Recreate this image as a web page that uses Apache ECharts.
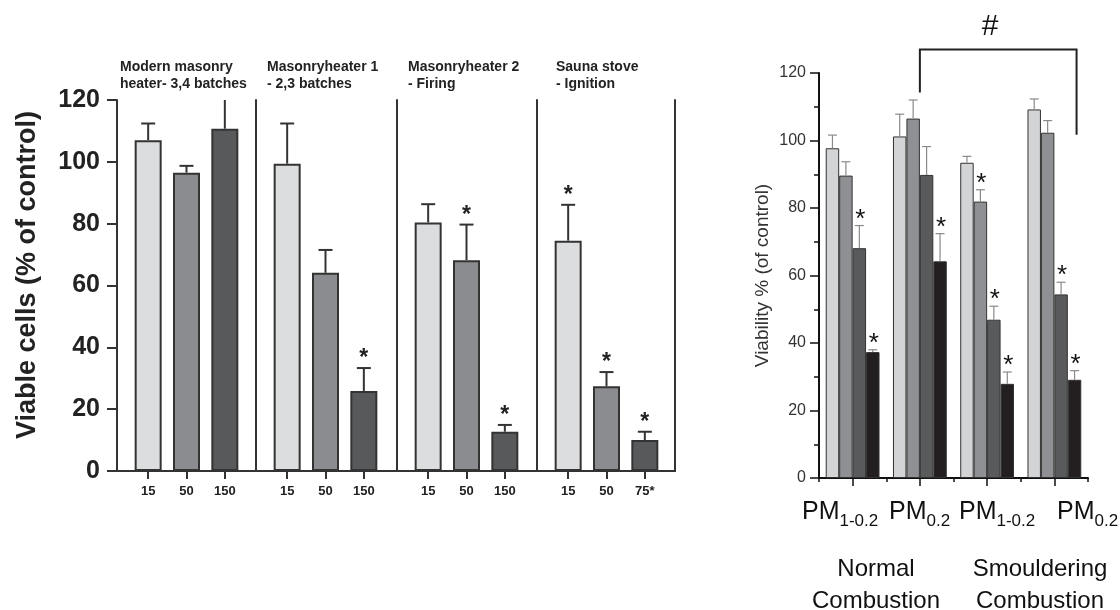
<!DOCTYPE html>
<html><head><meta charset="utf-8">
<script src="https://cdn.jsdelivr.net/npm/echarts@6/dist/echarts.min.js"></script>
<style>html,body{margin:0;padding:0;background:#fff}#c{width:1120px;height:610px}</style>
</head><body><div id="c"></div>
<script>
// ---------- LEFT CHART DATA ----------
const panelTitles = ['Modern masonry\nheater- 3,4 batches', 'Masonryheater 1\n- 2,3 batches', 'Masonryheater 2\n- Firing', 'Sauna stove\n- Ignition'];
const leftDoses = [['15','50','150'], ['15','50','150'], ['15','50','150'], ['15','50','75*']];
const leftMeans = [[107, 96.5, 110.7], [99.4, 64.1, 25.9], [80.4, 68.2, 12.7], [74.5, 27.4, 10]];
const leftErrTop = [[112.4, 98.7, 122], [112.4, 71.5, 33.3], [86.3, 79.7, 14.9], [86.1, 32, 12.7]];
const leftStars = [[0, 0, 0], [0, 0, 1], [0, 1, 1], [1, 1, 1]];

// ---------- RIGHT CHART DATA ----------
const rightCats = ['PM1-0.2 Normal', 'PM0.2 Normal', 'PM1-0.2 Smouldering', 'PM0.2 Smouldering'];
const rightLabelMain = ['PM', 'PM', 'PM', 'PM'];
const rightLabelSub = ['1-0.2', '0.2', '1-0.2', '0.2'];
const rightGroupLabels = ['Normal\nCombustion', 'Smouldering\nCombustion'];
const rightS1 = [97.7, 101.2, 93.4, 109.2];
const rightS2 = [89.6, 106.5, 81.9, 102.3];
const rightS3 = [68.1, 89.8, 46.9, 54.4];
const rightS4 = [37.3, 64.2, 27.9, 29.1];
const rightE1 = [101.6, 107.8, 95.3, 112.3];
const rightE2 = [93.7, 112.0, 85.4, 105.9];
const rightE3 = [74.8, 98.2, 50.9, 58.0];
const rightE4 = [38.0, 72.4, 31.4, 31.8];
const rightStar1 = [0, 0, 0, 0];
const rightStar2 = [0, 0, 1, 0];
const rightStar3 = [1, 0, 1, 1];
const rightStar4 = [1, 1, 1, 1];
const bracketTop = 127, bracketLeftFoot = 114.2, bracketRightFoot = 101.7;

// ---------- BUILD ----------
const FONT = "'Liberation Sans', Arial, Helvetica, sans-serif";
const leftColors = ['#dcdddf', '#8b8c8f', '#58595b'];
const rightColors = ['#d3d4d6', '#8f9093', '#595a5c', '#231f20'];
const panelStart = [117, 256, 397, 537];
const chart = echarts.init(document.getElementById('c'));

const grids = [], xAxes = [], yAxes = [], series = [];

function leftErr(params, api) {
  const base = api.coord([api.value(0), api.value(1)]);
  const t = api.coord([api.value(0), api.value(2)]);
  const gy = params.coordSys.y;
  const ty = Math.max(t[1], gy);
  const ch = [{type: 'line', shape: {x1: base[0], y1: base[1], x2: base[0], y2: ty}, style: {stroke: '#333', lineWidth: 2}}];
  if (t[1] > gy + 0.5) ch.push({type: 'line', shape: {x1: base[0] - 7, y1: ty, x2: base[0] + 7, y2: ty}, style: {stroke: '#333', lineWidth: 2}});
  if (api.value(3)) ch.push({type: 'text', style: {text: '*', x: base[0], y: ty - 9, align: 'center', verticalAlign: 'middle', fontSize: 23, fontWeight: 'bold', fontFamily: FONT, fill: '#222'}});
  return {type: 'group', children: ch};
}

panelStart.forEach((s, i) => {
  grids.push({left: s + 12, width: 115, top: 100, bottom: 139, outerBoundsMode: 'none'});
  const xi = xAxes.length, yi = yAxes.length;
  xAxes.push({type: 'category', gridIndex: i, data: leftDoses[i],
    axisLine: {show: true, lineStyle: {color: 'rgba(0,0,0,0)', width: 0}},
    axisTick: {show: true, interval: 0, alignWithLabel: true, length: 8, lineStyle: {color: '#333', width: 2}},
    axisLabel: {interval: 0, fontFamily: FONT, fontWeight: 'bold', fontSize: 13, color: '#222', margin: 14}});
  yAxes.push({type: 'value', gridIndex: i, min: 0, max: 120, interval: 20, offset: 12,
    splitLine: {show: false},
    axisLine: {show: true, lineStyle: {color: '#333', width: 2}},
    axisTick: {show: i === 0, length: 10, lineStyle: {color: '#333', width: 2}},
    axisLabel: {show: i === 0, fontFamily: FONT, fontWeight: 'bold', fontSize: 25, color: '#222', margin: 17}});
  series.push({type: 'bar', xAxisIndex: xi, yAxisIndex: yi, barWidth: 27, z: 2,
    data: leftMeans[i].map((v, j) => ({value: v, itemStyle: {color: leftColors[j]}})),
    itemStyle: {borderColor: '#333', borderWidth: 2}});
  series.push({type: 'custom', xAxisIndex: xi, yAxisIndex: yi, z: 3,
    data: leftMeans[i].map((v, j) => [j, v, leftErrTop[i][j], leftStars[i][j]]),
    renderItem: leftErr});
});
// closing separator on right of last panel
yAxes.push({type: 'value', gridIndex: 3, position: 'right', min: 0, max: 120, interval: 20, offset: 11,
  splitLine: {show: false}, axisTick: {show: false}, axisLabel: {show: false},
  axisLine: {show: true, lineStyle: {color: '#333', width: 2}}});

// baseline grid
const baseGrid = grids.length;
grids.push({left: 117, width: 558, top: 100, bottom: 139, outerBoundsMode: 'none'});
xAxes.push({type: 'value', gridIndex: baseGrid, min: 0, max: 1, axisLine: {show: true, lineStyle: {color: '#333', width: 2}},
  axisTick: {show: false}, axisLabel: {show: false}, splitLine: {show: false}});
yAxes.push({type: 'value', gridIndex: baseGrid, min: 0, max: 1, show: false});

// right grid
const rGrid = grids.length;
grids.push({left: 819, width: 269, top: 73, bottom: 132, outerBoundsMode: 'none'});
const rX = xAxes.length, rY = yAxes.length;
xAxes.push({type: 'category', gridIndex: rGrid, data: rightCats,
  axisLine: {show: true, lineStyle: {color: '#111', width: 2}},
  axisTick: {show: true, interval: 0, alignWithLabel: true, length: 8, lineStyle: {color: '#111', width: 1.5}},
  axisLabel: {show: false, interval: 0}});
yAxes.push({type: 'value', gridIndex: rGrid, min: 0, max: 120, interval: 20,
  name: 'Viability % (of control)', nameLocation: 'middle', nameGap: 47,
  nameTextStyle: {fontFamily: FONT, fontSize: 19, color: '#333'},
  splitLine: {show: false},
  axisLine: {show: true, lineStyle: {color: '#111', width: 2}},
  axisTick: {show: true, length: 9, lineStyle: {color: '#111', width: 1.5}},
  minorTick: {show: true, splitNumber: 2, length: 5, lineStyle: {color: '#111', width: 1.5}},
  axisLabel: {fontFamily: FONT, fontSize: 16, color: '#333', margin: 13}});
// boundary ticks grid
const bGrid = grids.length;
grids.push({left: 819, width: 269, top: 73, bottom: 132, outerBoundsMode: 'none'});
xAxes.push({type: 'category', gridIndex: bGrid, data: rightCats,
  axisLine: {show: true, lineStyle: {color: 'rgba(0,0,0,0)', width: 0}},
  axisTick: {show: true, interval: 0, length: 4, lineStyle: {color: '#111', width: 1.5}}, axisLabel: {show: false, interval: 0}});
yAxes.push({type: 'value', gridIndex: bGrid, min: 0, max: 1, show: false});

const rightVals = [rightS1, rightS2, rightS3, rightS4];
const rightErrs = [rightE1, rightE2, rightE3, rightE4];
const rightStars = [rightStar1, rightStar2, rightStar3, rightStar4];
rightVals.forEach((arr, k) => {
  series.push({type: 'bar', name: 'c' + k, xAxisIndex: rX, yAxisIndex: rY, data: arr, barGap: '0%', barCategoryGap: '20%', z: 2,
    itemStyle: {color: rightColors[k], borderColor: '#333', borderWidth: 1}});
});
rightVals.forEach((arr, k) => {
  series.push({type: 'custom', xAxisIndex: rX, yAxisIndex: rY, z: 3,
    data: arr.map((v, j) => [j, v, rightErrs[k][j], rightStars[k][j]]),
    renderItem: (params, api) => {
      const c = api.coord([api.value(0), api.value(1)]);
      const bw = api.size([1, 0])[0] * 0.8 / 4;
      const x = c[0] + (k - 1.5) * bw;
      const ty = api.coord([api.value(0), api.value(2)])[1];
      const ch = [
        {type: 'line', shape: {x1: x, y1: c[1], x2: x, y2: ty}, style: {stroke: '#8a8a8a', lineWidth: 1.2}},
        {type: 'line', shape: {x1: x - 4.5, y1: ty, x2: x + 4.5, y2: ty}, style: {stroke: '#8a8a8a', lineWidth: 1.2}}
      ];
      if (api.value(3)) ch.push({type: 'text', style: {text: '*', x: x + 1, y: ty - 6, align: 'center', verticalAlign: 'middle', fontSize: 26, fontFamily: FONT, fill: '#111'}});
      return {type: 'group', children: ch};
    }});
});

// ---------- TEXT GRAPHICS ----------
const graphics = [];
const titleX = [120, 267, 408, 556];
panelTitles.forEach((t, i) => graphics.push({type: 'text', x: titleX[i], y: 59,
  style: {text: t, fontFamily: FONT, fontWeight: 'bold', fontSize: 14, lineHeight: 17, fill: '#222', align: 'left', verticalAlign: 'top'}}));
graphics.push({type: 'text', x: 28, y: 275, rotation: Math.PI / 2,
  style: {text: 'Viable cells (% of control)', fontFamily: FONT, fontWeight: 'bold', fontSize: 27, fill: '#222', align: 'center', verticalAlign: 'middle'}});
const rlabX = [802, 889, 959, 1057];
rightLabelMain.forEach((m, i) => graphics.push({type: 'text', x: rlabX[i], y: 500,
  style: {text: '{m|' + m + '}{s|' + rightLabelSub[i] + '}', align: 'left', verticalAlign: 'top', fill: '#111',
    rich: {m: {fontFamily: FONT, fontSize: 25, lineHeight: 25, verticalAlign: 'top', fill: '#111'},
           s: {fontFamily: FONT, fontSize: 17, lineHeight: 17, padding: [13, 0, 0, 0], verticalAlign: 'top', fill: '#111'}}}}));
const glX = [876, 1040];
rightGroupLabels.forEach((g, i) => graphics.push({type: 'text', x: glX[i], y: 553,
  style: {text: g, fontFamily: FONT, fontSize: 24, lineHeight: 32, fill: '#111', align: 'center', verticalAlign: 'top'}}));

chart.setOption({animation: false, grid: grids, xAxis: xAxes, yAxis: yAxes, series: series, graphic: graphics});

// bracket computed from the right chart scales
const pL = chart.convertToPixel({gridIndex: rGrid}, [1, bracketTop]);
const pLf = chart.convertToPixel({gridIndex: rGrid}, [1, bracketLeftFoot]);
const pR = chart.convertToPixel({gridIndex: rGrid}, [3, bracketRightFoot]);
const band = chart.convertToPixel({gridIndex: rGrid}, [1, 0])[0] - chart.convertToPixel({gridIndex: rGrid}, [0, 0])[0];
const rx = pR[0] + band * 0.33;
graphics.push({type: 'polyline', shape: {points: [[pL[0], pLf[1]], [pL[0], pL[1]], [rx, pL[1]], [rx, pR[1]]]},
  style: {stroke: '#222', lineWidth: 2, fill: null}});
graphics.push({type: 'text', x: 990, y: 27, style: {text: '#', fontFamily: FONT, fontSize: 30, fill: '#111', align: 'center', verticalAlign: 'middle'}});
chart.setOption({graphic: graphics}, {replaceMerge: ['graphic']});
</script></body></html>
